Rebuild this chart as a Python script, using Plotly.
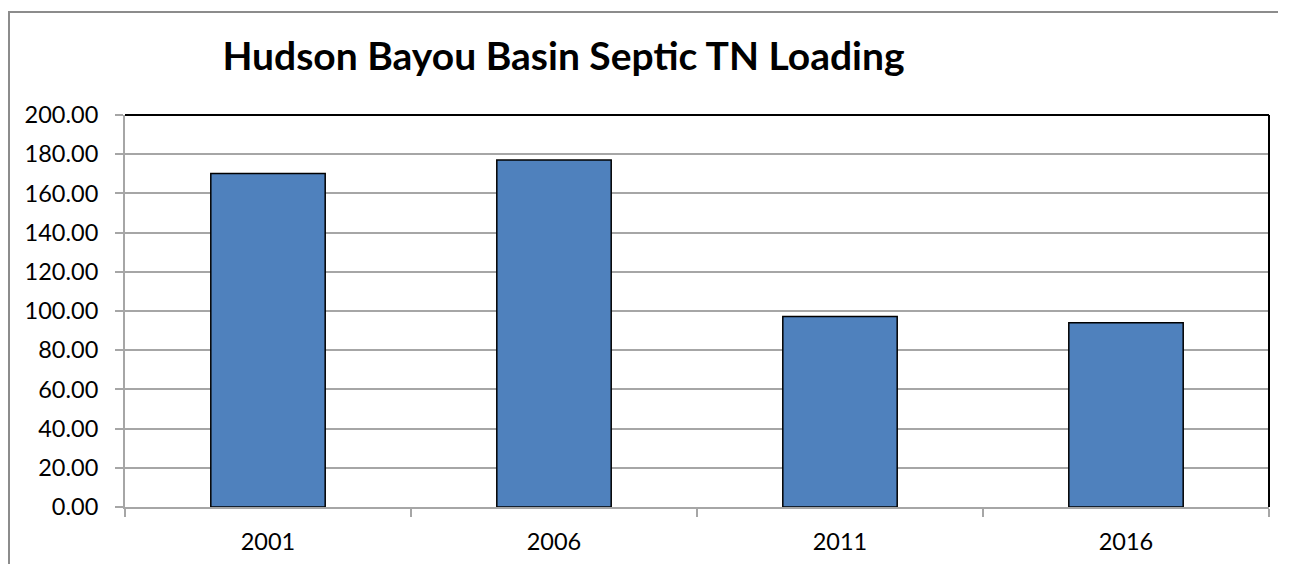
import plotly.graph_objects as go

# Hudson Bayou Basin septic TN loading by year
years = ["2001", "2006", "2011", "2016"]
tn_loading = [170.2, 177.0, 97.2, 94.0]
y_ticks = [0, 20, 40, 60, 80, 100, 120, 140, 160, 180, 200]

fig = go.Figure()

fig.add_trace(
    go.Bar(
        x=years,
        y=tn_loading,
        marker=dict(color="#4F81BD", line=dict(color="black", width=1.5)),
        showlegend=False,
    )
)

grid_col = "#A6A6A6"

# page body has an 8px margin, so the figure is sized to fit inside it
fig.update_layout(
    width=1270,
    height=556,
    paper_bgcolor="white",
    plot_bgcolor="white",
    margin=dict(l=117, r=9, t=107, b=49),
    bargap=0.6,
    font=dict(family="Lato, 'Open Sans', sans-serif", size=23.5, color="black"),
    title=dict(
        text="<b>Hudson Bayou Basin Septic TN Loading</b>",
        xref="container", x=555.5 / 1270, xanchor="center",
        yref="container", y=1 - 48 / 556, yanchor="middle",
        font=dict(size=39, color="black"),
    ),
    xaxis=dict(
        type="category",
        showline=True, linecolor=grid_col, linewidth=2,
        ticks="outside", tickson="boundaries", ticklen=8,
        tickcolor=grid_col, tickwidth=1.5,
        showgrid=False,
        ticklabelstandoff=13,
    ),
    yaxis=dict(
        range=[0, 200],
        tickvals=y_ticks,
        tickformat=".2f",
        showline=True, linecolor=grid_col, linewidth=2,
        ticks="outside", ticklen=8, tickcolor=grid_col, tickwidth=1.5,
        showgrid=True, gridcolor=grid_col, gridwidth=1.5,
        zeroline=False,
        ticklabelstandoff=12,
    ),
)

# black frame on top and right of plot area
fig.add_shape(type="line", xref="paper", yref="paper", x0=0, x1=1, y0=1, y1=1,
              line=dict(color="black", width=2))
fig.add_shape(type="line", xref="paper", yref="paper", x0=1, x1=1, y0=0, y1=1,
              line=dict(color="black", width=2))

# outer chart border (only left and top fall inside the picture)
fig.add_shape(type="rect", xref="paper", yref="paper",
              x0=-0.1014, x1=1.05, y0=-0.2, y1=1.2625,
              line=dict(color="#8C8C8C", width=2), layer="below")

fig.write_html("out.html")
